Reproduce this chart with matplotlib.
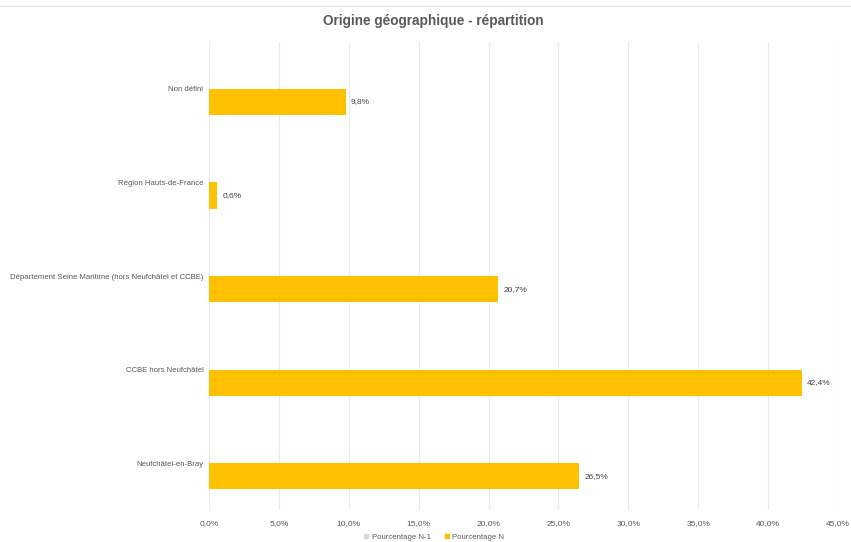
import numpy as np
import matplotlib.pyplot as plt
from matplotlib.patches import Patch
from matplotlib.lines import Line2D

plt.rcParams['font.family'] = ['Liberation Sans', 'DejaVu Sans']

# Data
categories = ["Non défini", "Région Hauts-de-France",
              "Département Seine Maritime (hors Neufchâtel et CCBE)",
              "CCBE hors Neufchâtel", "Neufchâtel-en-Bray"]
pct_n = [9.8, 0.6, 20.7, 42.4, 26.5]
pct_n1 = [0, 0, 0, 0, 0]
xticks = [0, 5, 10, 15, 20, 25, 30, 35, 40, 45]

GOLD = "#FFC000"
GREY_TXT = "#595959"

fig = plt.figure(figsize=(8.51, 5.42), dpi=100)
ax = fig.add_axes([0.2456, 0.059, 0.739, 0.8635])

y = np.arange(len(categories))
ax.barh(y, pct_n, height=0.28, color=GOLD, zorder=3)

for yi, v in zip(y, pct_n):
    ax.text(v + 0.35, yi, f"{v:.1f}%".replace(".", ","), va="center",
            ha="left", fontsize=6, color="#404040")

ax.set_yticks(y - 0.14)
ax.set_yticklabels(categories, fontsize=5.6, color=GREY_TXT)
ax.set_ylim(4.36, -0.64)

ax.set_xlim(0, 45)
ax.set_xticks(xticks)
ax.set_xticklabels([f"{t:.1f}%".replace(".", ",") for t in xticks],
                   fontsize=6, color=GREY_TXT)
ax.grid(True, axis="x", color="#EAEAEA", linewidth=0.8, zorder=0)
ax.tick_params(axis="y", length=0, pad=4)
ax.tick_params(axis="x", length=0, pad=7)
for s in ax.spines.values():
    s.set_visible(False)

fig.text(0.509, 0.961, "Origine géographique - répartition", ha="center",
         va="center", fontsize=9.8, fontweight="bold", color=GREY_TXT)

# thin border line at the top
fig.add_artist(Line2D([0, 1], [0.989, 0.989], color="#E6E6E6", linewidth=0.8))

handles = [Patch(color="#D9D9D9", label="Pourcentage N-1"),
           Patch(color=GOLD, label="Pourcentage N")]
fig.legend(handles=handles, loc="center", bbox_to_anchor=(0.51, 0.009),
           ncol=2, frameon=False, fontsize=5.6, handlelength=0.6,
           handleheight=0.6, columnspacing=1.8, handletextpad=0.4,
           labelcolor=GREY_TXT)

fig.savefig("out.png", dpi=100)
